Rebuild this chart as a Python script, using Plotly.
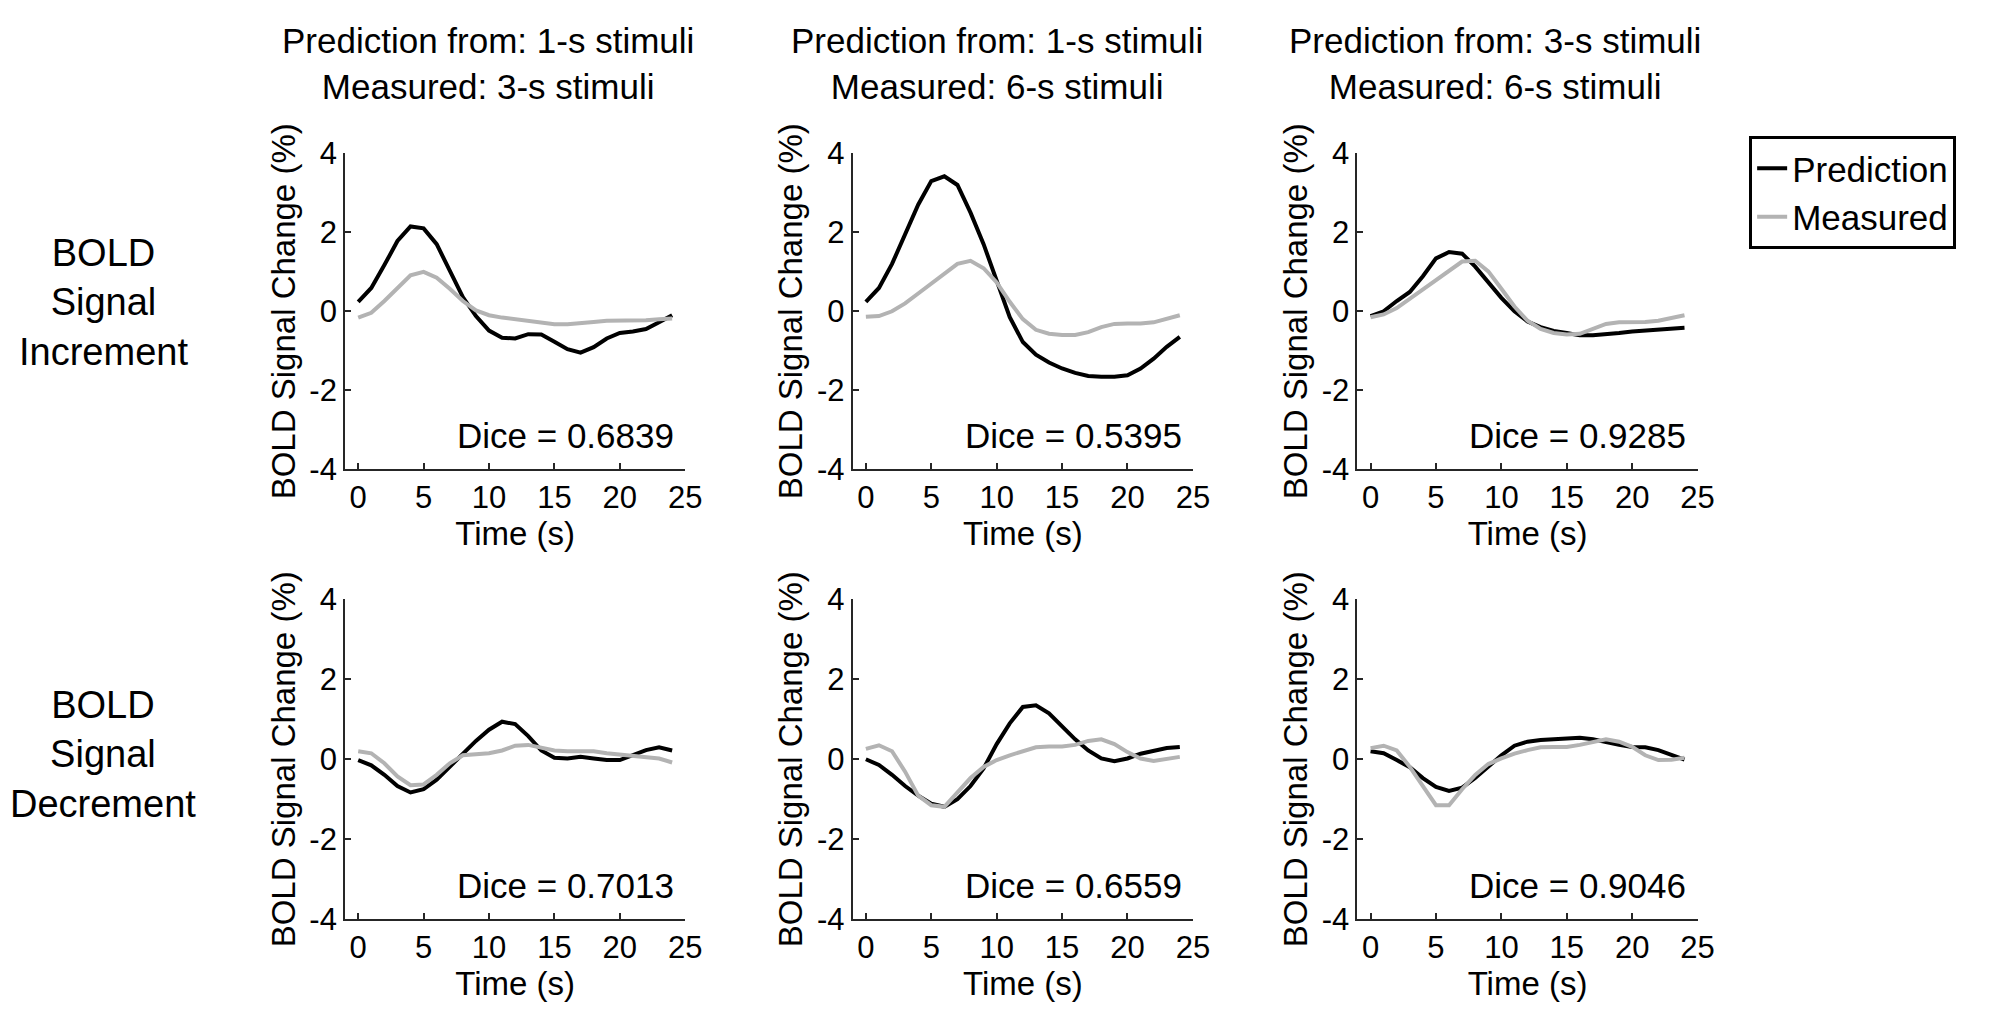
import plotly.graph_objects as go
from plotly.subplots import make_subplots

# Time axis (s), one sample per second
time_s = list(range(25))

# Row 1: BOLD signal increment
pred_inc_1to3 = [0.24, 0.59, 1.17, 1.78, 2.15, 2.10, 1.70, 1.05, 0.36, -0.12, -0.49, -0.67, -0.69,
                 -0.58, -0.59, -0.77, -0.96, -1.05, -0.91, -0.69, -0.55, -0.51, -0.45, -0.28, -0.10]
meas_inc_1to3 = [-0.16, -0.04, 0.26, 0.59, 0.91, 1.00, 0.85, 0.57, 0.26, 0.02, -0.10, -0.16, -0.20,
                 -0.23, -0.28, -0.33, -0.33, -0.31, -0.27, -0.24, -0.24, -0.24, -0.23, -0.20, -0.18]
pred_inc_1to6 = [0.24, 0.59, 1.20, 1.95, 2.70, 3.30, 3.42, 3.20, 2.50, 1.70, 0.75, -0.15, -0.78,
                 -1.10, -1.30, -1.45, -1.56, -1.64, -1.66, -1.66, -1.62, -1.45, -1.20, -0.90, -0.65]
meas_inc_1to6 = [-0.14, -0.12, 0.00, 0.20, 0.45, 0.69, 0.93, 1.20, 1.28, 1.09, 0.73, 0.24, -0.20,
                 -0.47, -0.57, -0.60, -0.60, -0.53, -0.40, -0.32, -0.31, -0.31, -0.28, -0.20, -0.10]
pred_inc_3to6 = [-0.12, 0.00, 0.26, 0.49, 0.89, 1.34, 1.50, 1.46, 1.13, 0.73, 0.34, 0.00, -0.26,
                 -0.40, -0.50, -0.55, -0.61, -0.61, -0.59, -0.55, -0.51, -0.49, -0.46, -0.44, -0.42]
meas_inc_3to6 = [-0.15, -0.08, 0.08, 0.32, 0.57, 0.81, 1.05, 1.26, 1.28, 1.01, 0.57, 0.12, -0.24,
                 -0.45, -0.55, -0.59, -0.57, -0.45, -0.32, -0.28, -0.28, -0.27, -0.24, -0.16, -0.10]

# Row 2: BOLD signal decrement
pred_dec_1to3 = [-0.02, -0.15, -0.39, -0.67, -0.83, -0.75, -0.51, -0.19, 0.14, 0.46, 0.74, 0.94, 0.88,
                 0.58, 0.22, 0.04, 0.02, 0.06, 0.02, -0.02, -0.02, 0.10, 0.23, 0.30, 0.22]
meas_dec_1to3 = [0.20, 0.15, -0.10, -0.43, -0.65, -0.63, -0.39, -0.10, 0.10, 0.12, 0.15, 0.22, 0.34,
                 0.36, 0.30, 0.22, 0.20, 0.20, 0.20, 0.15, 0.12, 0.10, 0.06, 0.02, -0.08]
pred_dec_1to6 = [0.00, -0.14, -0.39, -0.67, -0.91, -1.11, -1.19, -1.00, -0.67, -0.23, 0.38, 0.90, 1.31,
                 1.35, 1.15, 0.82, 0.50, 0.22, 0.02, -0.05, 0.02, 0.14, 0.22, 0.28, 0.31]
meas_dec_1to6 = [0.26, 0.35, 0.20, -0.31, -0.91, -1.15, -1.19, -0.83, -0.47, -0.19, -0.02, 0.10, 0.20,
                 0.30, 0.32, 0.32, 0.36, 0.46, 0.50, 0.38, 0.18, 0.02, -0.04, 0.00, 0.06]
pred_dec_3to6 = [0.20, 0.15, -0.02, -0.20, -0.47, -0.69, -0.79, -0.71, -0.47, -0.19, 0.10, 0.34, 0.44,
                 0.48, 0.50, 0.54, 0.54, 0.50, 0.42, 0.36, 0.31, 0.30, 0.23, 0.12, -0.01]
meas_dec_3to6 = [0.28, 0.34, 0.22, -0.19, -0.67, -1.15, -1.15, -0.75, -0.39, -0.12, 0.02, 0.14, 0.23,
                 0.30, 0.31, 0.31, 0.36, 0.44, 0.50, 0.44, 0.31, 0.10, -0.02, -0.01, 0.04]

predictions = [[pred_inc_1to3, pred_inc_1to6, pred_inc_3to6],
               [pred_dec_1to3, pred_dec_1to6, pred_dec_3to6]]
measured = [[meas_inc_1to3, meas_inc_1to6, meas_inc_3to6],
            [meas_dec_1to3, meas_dec_1to6, meas_dec_3to6]]
dice = [["0.6839", "0.5395", "0.9285"],
        ["0.7013", "0.6559", "0.9046"]]

col_titles = ["Prediction from: 1-s stimuli<br>Measured: 3-s stimuli",
              "Prediction from: 1-s stimuli<br>Measured: 6-s stimuli",
              "Prediction from: 3-s stimuli<br>Measured: 6-s stimuli"]
row_labels = ["BOLD<br>Signal<br>Increment", "BOLD<br>Signal<br>Decrement"]

x_ticks = [0, 5, 10, 15, 20, 25]
y_ticks = [-4, -2, 0, 2, 4]
y_tick_text = ["-4", "-2", "0", "2", "4"]

W, H = 2009, 1015
FONT = "Liberation Sans, Arial, Helvetica, sans-serif"
BLACK = "#000000"
GRAY = "#b3b3b3"
AXIS = "#262626"

# panel placement in pixels (left, right) and (top, bottom)
col_px = [(340, 683), (852, 1195), (1361, 1704)]
row_px = [(133, 460), (595, 926)]
title_cx = [484, 997, 1500]
row_label_cy = [287, 756]

fig = make_subplots(rows=2, cols=3)

for r in range(2):
    for c in range(3):
        first = (r == 0 and c == 0)
        fig.add_trace(go.Scatter(x=time_s, y=predictions[r][c], mode="lines", name="Prediction",
                                 line=dict(color=BLACK, width=4), showlegend=first,
                                 legendgroup="pred"), row=r + 1, col=c + 1)
        fig.add_trace(go.Scatter(x=time_s, y=measured[r][c], mode="lines", name="Measured",
                                 line=dict(color=GRAY, width=4), showlegend=first,
                                 legendgroup="meas"), row=r + 1, col=c + 1)

        idx = r * 3 + c + 1
        sfx = "" if idx == 1 else str(idx)
        x0, x1 = col_px[c]
        y0, y1 = row_px[r]
        fig.layout["xaxis" + sfx].update(domain=[x0 / W, x1 / W])
        fig.layout["yaxis" + sfx].update(domain=[1 - y1 / H, 1 - y0 / H])

        fig.add_annotation(text="Dice = " + dice[r][c], x=24.3, y=-3.15,
                           xref="x" + sfx, yref="y" + sfx,
                           xanchor="right", yanchor="middle", showarrow=False,
                           font=dict(size=35, color=BLACK, family=FONT))

axis_style = dict(showline=True, linecolor=AXIS, linewidth=2, ticks="inside", ticklen=6,
                  tickwidth=2, tickcolor=AXIS, showgrid=False, zeroline=False, mirror=False,
                  tickfont=dict(size=31, color=BLACK, family=FONT))

fig.update_xaxes(range=[-1, 25], tickvals=x_ticks, **axis_style,
                 title=dict(text="Time (s)", font=dict(size=33, color=BLACK, family=FONT), standoff=4))
fig.update_yaxes(range=[-4, 4], tickvals=y_ticks, ticktext=y_tick_text, **axis_style,
                 title=dict(text="BOLD Signal Change (%)", font=dict(size=33, color=BLACK, family=FONT),
                            standoff=4))

for c in range(3):
    fig.add_annotation(text=col_titles[c], x=title_cx[c] / W, y=1 - 40 / H, xref="paper", yref="paper",
                       xanchor="center", yanchor="middle", showarrow=False,
                       font=dict(size=35, color=BLACK, family=FONT))
for r in range(2):
    fig.add_annotation(text=row_labels[r], x=96 / W, y=1 - row_label_cy[r] / H, xref="paper",
                       yref="paper", xanchor="center", yanchor="middle", showarrow=False,
                       font=dict(size=38, color=BLACK, family=FONT))

fig.update_layout(
    width=W, height=H,
    margin=dict(l=0, r=0, t=0, b=0),
    paper_bgcolor="white", plot_bgcolor="white",
    legend=dict(x=1756 / W, y=1 - 115 / H, xanchor="left", yanchor="top",
                bordercolor=BLACK, borderwidth=3, bgcolor="white",
                font=dict(size=35, color=BLACK, family=FONT), tracegroupgap=0),
)

fig.write_html("out.html")
